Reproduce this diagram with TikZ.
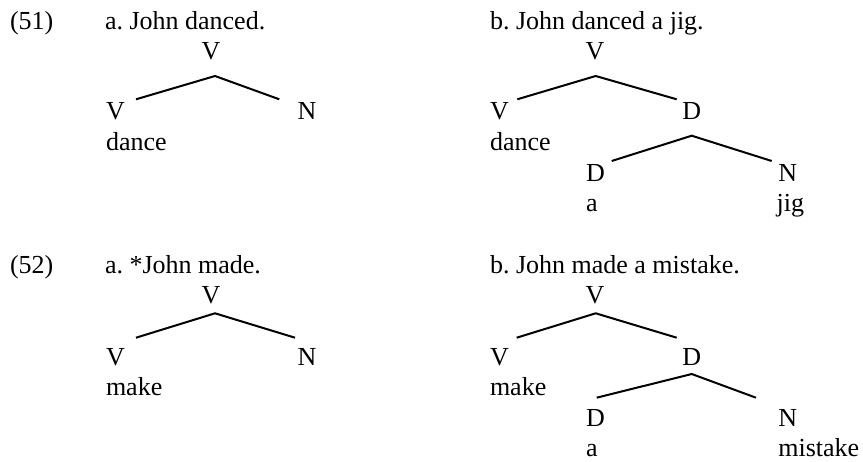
\documentclass[tikz,border=0pt]{standalone}
\usepackage{fontspec}
\setmainfont{Liberation Serif}
\frenchspacing
\begin{document}
\begin{tikzpicture}[x=1pt,y=-1pt,
  txt/.style={anchor=base west,inner sep=0pt,outer sep=0pt,font=\fontsize{26}{31}\selectfont\frenchspacing},
  cat/.style={anchor=base,inner sep=0pt,outer sep=0pt,font=\fontsize{26}{31}\selectfont},
  branch/.style={line width=2pt,line join=miter}]
\useasboundingbox (0,0) rectangle (863,461);
% ---------- (51a)
\node[txt] (n51) at (10,29) {(51)};
\node[txt] (s51a) at (105,29) {a. John danced.};
\node[cat] (a1top) at (211,59) {V};
\node[txt] (a1v) at (106,119) {V};
\node[txt] (a1n) at (297.7,119) {N};
\node[txt] (a1w) at (106,150) {dance};
\coordinate (a1apex) at (215,76);
\coordinate (a1l) at (136,99.3);
\coordinate (a1r) at (279.3,99.3);
\draw[branch] (a1l) -- (a1apex) -- (a1r);
% ---------- (51b)
\node[txt] (s51b) at (490,29) {b. John danced a jig.};
\node[cat] (b1top) at (595,59) {V};
\node[txt] (b1v) at (490,119) {V};
\node[txt] (b1d) at (682.3,119) {D};
\node[txt] (b1w) at (490,150) {dance};
\node[txt] (b1dd) at (586,181.7) {D};
\node[txt] (b1n) at (778.3,181.7) {N};
\node[txt] (b1a) at (586,211.7) {a};
\node[txt] (b1jig) at (776.7,211.7) {jig};
\coordinate (b1apex) at (595.7,76);
\coordinate (b1l) at (517.3,99.3);
\coordinate (b1r) at (676.7,99.3);
\coordinate (b1apex2) at (691.7,135.7);
\coordinate (b1l2) at (611.7,161);
\coordinate (b1r2) at (771.7,161);
\draw[branch] (b1l) -- (b1apex) -- (b1r);
\draw[branch] (b1l2) -- (b1apex2) -- (b1r2);
% ---------- (52a)
\node[txt] (n52) at (10,273.3) {(52)};
\node[txt] (s52a) at (105,273.3) {a. *John made.};
\node[cat] (a2top) at (211,303.3) {V};
\node[txt] (a2v) at (106,365) {V};
\node[txt] (a2n) at (297.7,365) {N};
\node[txt] (a2w) at (106,395) {make};
\coordinate (a2apex) at (215,313.3);
\coordinate (a2l) at (136,337.7);
\coordinate (a2r) at (295,337.7);
\draw[branch] (a2l) -- (a2apex) -- (a2r);
% ---------- (52b)
\node[txt] (s52b) at (490,273.3) {b. John made a mistake.};
\node[cat] (b2top) at (595,303.3) {V};
\node[txt] (b2v) at (490,365) {V};
\node[txt] (b2d) at (682.3,365) {D};
\node[txt] (b2w) at (490,395) {make};
\node[txt] (b2dd) at (586,426.7) {D};
\node[txt] (b2n) at (778.3,426.7) {N};
\node[txt] (b2a) at (586,456.7) {a};
\node[txt] (b2mis) at (778.3,456.7) {mistake};
\coordinate (b2apex) at (595.7,313.3);
\coordinate (b2l) at (516.7,337.7);
\coordinate (b2r) at (676.7,337.7);
\coordinate (b2apex2) at (691.7,374);
\coordinate (b2l2) at (596.7,397.7);
\coordinate (b2r2) at (756,397.7);
\draw[branch] (b2l) -- (b2apex) -- (b2r);
\draw[branch] (b2l2) -- (b2apex2) -- (b2r2);
\end{tikzpicture}
\end{document}
